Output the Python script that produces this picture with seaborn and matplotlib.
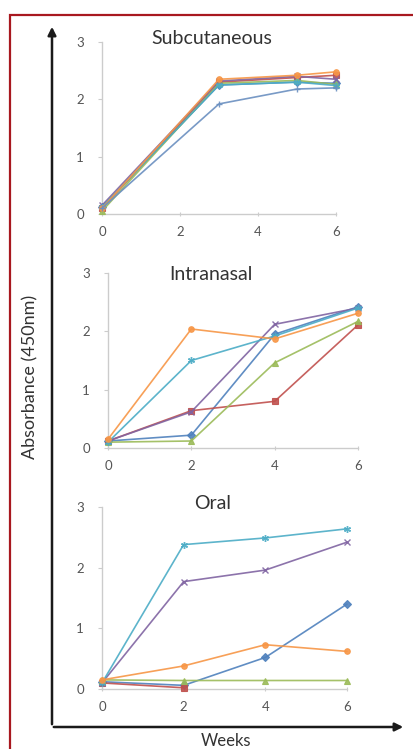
import numpy as np
import pandas as pd
import matplotlib
matplotlib.use("Agg")
import matplotlib.pyplot as plt
import seaborn as sns
from matplotlib.patches import FancyArrowPatch, Rectangle

sns.set_style("white")
plt.rcParams['font.family'] = ['Lato', 'DejaVu Sans']

# ---------------- data ----------------
series_names = ["S1", "S2", "S3", "S4", "S5", "S6", "S7"]
series_colors = ["#4f81bd", "#c0504d", "#9bbb59", "#8064a2", "#4bacc6", "#f79646", "#6a8fc0"]
series_markers = ["D", "s", "^", "x", (6, 2, 0), "o", "+"]

subq_weeks = [0, 3, 5, 6]
subq_s1 = [0.12, 2.25, 2.30, 2.28]
subq_s2 = [0.10, 2.30, 2.38, 2.42]
subq_s3 = [0.05, 2.28, 2.33, 2.26]
subq_s4 = [0.15, 2.32, 2.40, 2.35]
subq_s5 = [0.12, 2.25, 2.30, 2.24]
subq_s6 = [0.10, 2.35, 2.42, 2.48]
subq_s7 = [0.10, 1.92, 2.18, 2.20]

in_weeks = [0, 2, 4, 6]
in_s1 = [0.12, 0.22, 1.95, 2.42]
in_s2 = [0.12, 0.64, 0.80, 2.11]
in_s3 = [0.10, 0.12, 1.46, 2.17]
in_s4 = [0.12, 0.62, 2.12, 2.40]
in_s5 = [0.10, 1.50, 1.92, 2.40]
in_s6 = [0.15, 2.04, 1.87, 2.31]

oral_weeks = [0, 2, 4, 6]
oral_s1 = [0.12, 0.06, 0.52, 1.40]
oral_s2 = [0.10, 0.02, np.nan, np.nan]
oral_s3 = [0.15, 0.14, 0.14, 0.14]
oral_s4 = [0.10, 1.77, 1.96, 2.42]
oral_s5 = [0.10, 2.38, 2.49, 2.64]
oral_s6 = [0.15, 0.38, 0.73, 0.62]

panel_titles = ["Subcutaneous", "Intranasal", "Oral"]
y_ticks = [0, 1, 2, 3]
x_ticks = [0, 2, 4, 6]
y_label = "Absorbance (450nm)"
x_label = "Weeks"

panels = [
    (subq_weeks, [subq_s1, subq_s2, subq_s3, subq_s4, subq_s5, subq_s6, subq_s7]),
    (in_weeks, [in_s1, in_s2, in_s3, in_s4, in_s5, in_s6]),
    (oral_weeks, [oral_s1, oral_s2, oral_s3, oral_s4, oral_s5, oral_s6]),
]

# ---------------- figure ----------------
W, H = 414, 749
fig = plt.figure(figsize=(W / 100, H / 100), dpi=100)

def px_rect(l, r, b, t):
    return [l / W, 1 - b / H, (r - l) / W, (b - t) / H]

ax_rects = [
    px_rect(102, 336, 214, 42),
    px_rect(108, 358, 448, 273),
    px_rect(102, 347, 689, 507),
]
title_pos = [(0.47, 1.02), (0.41, 0.99), (0.45, 1.02)]

spine_col = "#cccccc"
text_col = "#555555"

for i, ((weeks, vals), rect) in enumerate(zip(panels, ax_rects)):
    ax = fig.add_axes(rect)
    for j, v in enumerate(vals):
        df = pd.DataFrame({"week": weeks, "value": v}).dropna()
        mk = series_markers[j]
        filled = mk in ("D", "s", "^", "o")
        sns.lineplot(data=df, x="week", y="value", ax=ax, color=series_colors[j],
                     marker=mk, markersize=4 if filled else 5, lw=1.2,
                     markeredgewidth=0.8 if filled else 1.0,
                     markeredgecolor=series_colors[j], clip_on=False, zorder=3,
                     alpha=0.9)
    ax.set_xlim(0, 6)
    ax.set_ylim(0, 3)
    ax.set_xticks(x_ticks)
    ax.set_yticks(y_ticks)
    ax.set_xlabel("")
    ax.set_ylabel("")
    for s in ["top", "right"]:
        ax.spines[s].set_visible(False)
    for s in ["left", "bottom"]:
        ax.spines[s].set_color(spine_col)
        ax.spines[s].set_linewidth(1.0)
    ax.tick_params(axis="y", length=3, color=spine_col, pad=10, labelsize=9.5,
                   labelcolor=text_col, direction="out", left=True)
    ax.tick_params(axis="x", length=3, color=spine_col, pad=7, labelsize=9.5,
                   labelcolor=text_col, direction="inout", bottom=True)
    ax.text(title_pos[i][0], title_pos[i][1], panel_titles[i], transform=ax.transAxes,
            ha="center", va="center", fontsize=14, color="#333333")
    ax.patch.set_alpha(0)

# big axis arrows
def fx(x):
    return x / W

def fy(y):
    return 1 - y / H

fig.add_artist(FancyArrowPatch((fx(52), fy(727)), (fx(52), fy(24)), transform=fig.transFigure,
                               arrowstyle="-|>", mutation_scale=12, lw=1.8, color="#1a1a1a"))
fig.add_artist(FancyArrowPatch((fx(51), fy(727)), (fx(406), fy(727)), transform=fig.transFigure,
                               arrowstyle="-|>", mutation_scale=12, lw=1.8, color="#1a1a1a"))

fig.text(fx(30), fy(377), y_label, rotation=90, ha="center", va="center",
         fontsize=13, color="#333333")
fig.text(fx(226), fy(741), x_label, ha="center", va="center", fontsize=12, color="#333333")

# dark red frame (right and bottom edges fall outside the image)
fig.add_artist(Rectangle((fx(10), -0.05), 1.0, fy(15) + 0.05,
                         transform=fig.transFigure, fill=False, edgecolor="#a8181f", lw=1.6))

fig.savefig("out.png", dpi=100)
